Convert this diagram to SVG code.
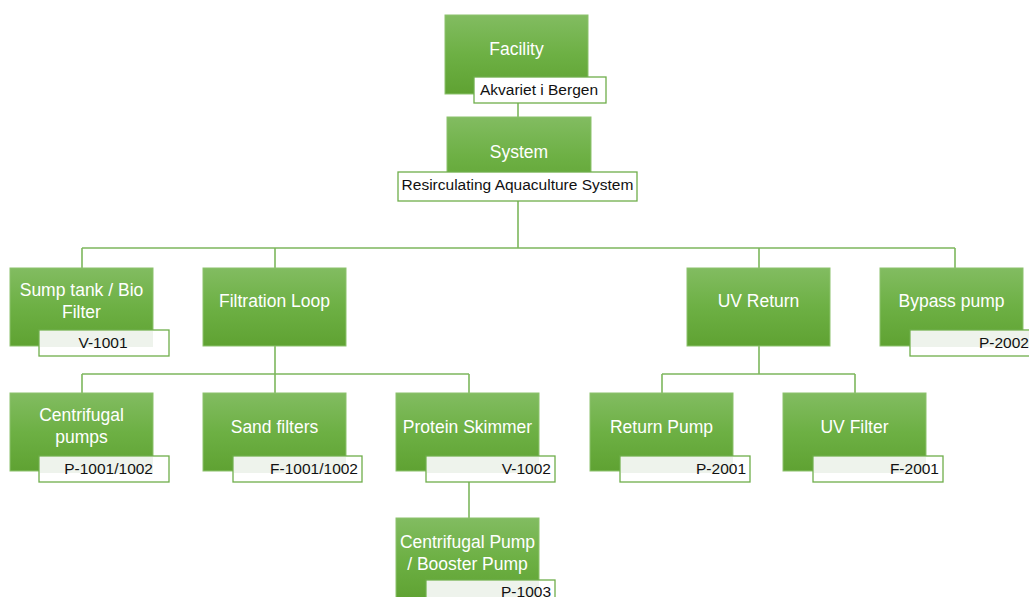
<svg xmlns="http://www.w3.org/2000/svg" width="1029" height="597" viewBox="0 0 1029 597">
<defs>
<linearGradient id="g" x1="0" y1="0" x2="0" y2="1">
<stop offset="0" stop-color="#82bc61"/>
<stop offset="0.5" stop-color="#6db044"/>
<stop offset="1" stop-color="#5fa232"/>
</linearGradient>
</defs>
<style>
.box{fill:url(#g);stroke:#8cc26c;stroke-width:1}
.lab{fill:#ffffff;stroke:#6fae4b;stroke-width:1.3}
.band{fill:#eef3ec}
.t{font-family:"Liberation Sans",Arial,sans-serif;font-size:17.5px;fill:#ffffff;text-anchor:middle}
.l{font-family:"Liberation Sans",Arial,sans-serif;font-size:15.5px;fill:#111111}
.c{fill:none;stroke:#7db75d;stroke-width:1.6}
</style>
<g id="connectors">
<path class="c" d="M518 103 V117"/>
<path class="c" d="M518 201 V248 M82 248 H955 M82 248 V268 M275 248 V268 M759 248 V268 M955 248 V268"/>
<path class="c" d="M275 346 V374 M82 374 H469 M82 374 V393 M275 374 V393 M469 374 V393"/>
<path class="c" d="M759 346 V374 M662 374 H855 M662 374 V393 M855 374 V393"/>
<path class="c" d="M469 482 V518"/>
</g>
<g id="facility">
<rect class="box" x="445" y="15" width="143" height="79"/>
<text class="t" x="516.5" y="55">Facility</text>
<rect class="lab" x="474" y="77" width="132" height="26"/>
<text class="l" x="539" y="95" text-anchor="middle">Akvariet i Bergen</text>
</g>
<g id="system">
<rect class="box" x="447" y="117" width="144" height="80"/>
<text class="t" x="519" y="158">System</text>
<rect class="lab" x="398" y="172" width="239" height="29"/>
<text class="l" x="517.5" y="190" text-anchor="middle" font-size="14">Resirculating Aquaculture System</text>
</g>
<g id="sump">
<rect class="box" x="10" y="268" width="143" height="78"/>
<text class="t" x="81.5" y="296">Sump tank / Bio</text>
<text class="t" x="81.5" y="318">Filter</text>
<rect class="lab" x="39" y="330" width="130" height="26"/>
<rect class="band" x="40" y="331" width="113" height="16"/>
<text class="l" x="103" y="348" text-anchor="middle">V-1001</text>
</g>
<g id="filtration">
<rect class="box" x="203" y="268" width="143" height="78"/>
<text class="t" x="274.5" y="307">Filtration Loop</text>
</g>
<g id="uvreturn">
<rect class="box" x="687" y="268" width="143" height="78"/>
<text class="t" x="758.5" y="307">UV Return</text>
</g>
<g id="bypass">
<rect class="box" x="880" y="268" width="143" height="78"/>
<text class="t" x="951.5" y="307">Bypass pump</text>
<rect class="lab" x="910" y="330" width="130" height="26"/>
<rect class="band" x="911" y="331" width="118" height="16"/>
<text class="l" x="979" y="348">P-2002</text>
</g>
<g id="centrifugal">
<rect class="box" x="10" y="393" width="143" height="78"/>
<text class="t" x="81.5" y="421">Centrifugal</text>
<text class="t" x="81.5" y="443">pumps</text>
<rect class="lab" x="39" y="456" width="130" height="26"/>
<rect class="band" x="40" y="457" width="113" height="16"/>
<text class="l" x="153" y="474" text-anchor="end">P-1001/1002</text>
</g>
<g id="sand">
<rect class="box" x="203" y="393" width="143" height="78"/>
<text class="t" x="274.5" y="433">Sand filters</text>
<rect class="lab" x="233" y="456" width="129" height="26"/>
<rect class="band" x="234" y="457" width="112" height="16"/>
<text class="l" x="358" y="474" text-anchor="end">F-1001/1002</text>
</g>
<g id="skimmer">
<rect class="box" x="396" y="393" width="143" height="78"/>
<text class="t" x="467.5" y="433">Protein Skimmer</text>
<rect class="lab" x="426" y="456" width="129" height="26"/>
<rect class="band" x="427" y="457" width="112" height="16"/>
<text class="l" x="551" y="474" text-anchor="end">V-1002</text>
</g>
<g id="returnpump">
<rect class="box" x="590" y="393" width="143" height="78"/>
<text class="t" x="661.5" y="433">Return Pump</text>
<rect class="lab" x="620" y="456" width="130" height="26"/>
<rect class="band" x="621" y="457" width="112" height="16"/>
<text class="l" x="746" y="474" text-anchor="end">P-2001</text>
</g>
<g id="uvfilter">
<rect class="box" x="783" y="393" width="143" height="78"/>
<text class="t" x="854.5" y="433">UV Filter</text>
<rect class="lab" x="813" y="456" width="130" height="26"/>
<rect class="band" x="814" y="457" width="112" height="16"/>
<text class="l" x="939" y="474" text-anchor="end">F-2001</text>
</g>
<g id="booster">
<rect class="box" x="396" y="518" width="143" height="82"/>
<text class="t" x="467.5" y="548">Centrifugal Pump</text>
<text class="t" x="467.5" y="570">/ Booster Pump</text>
<rect class="lab" x="426" y="580" width="129" height="26"/>
<rect class="band" x="427" y="581" width="112" height="16"/>
<text class="l" x="551" y="597" text-anchor="end">P-1003</text>
</g>
</svg>
